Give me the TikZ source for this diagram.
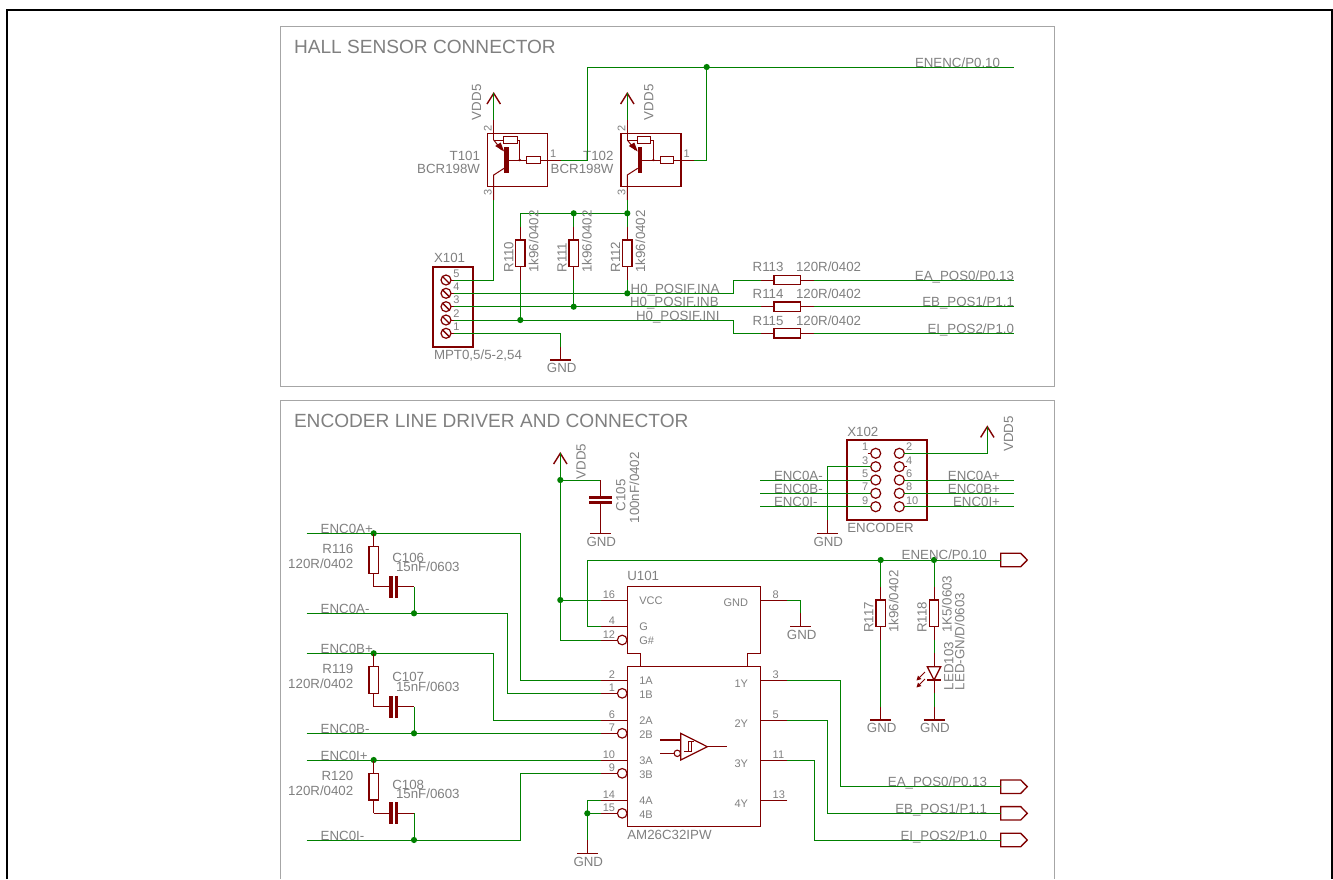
\documentclass[tikz,border=0pt]{standalone}
\usepackage{fontspec}
\setmainfont{Liberation Sans}
\definecolor{wirecol}{HTML}{008000}
\definecolor{symcol}{HTML}{800000}
\definecolor{labcol}{HTML}{808080}
\definecolor{panelcol}{HTML}{A6A6A6}
\tikzset{
  wire/.style={draw=wirecol,line width=1pt,line join=miter},
  sym/.style={draw=symcol,line width=1pt,line join=miter},
  symb/.style={draw=symcol,line width=1.4pt,line join=miter},
  lab/.style={text=labcol,inner sep=0pt,outer sep=0pt,font=\fontsize{13.3}{13.3}\selectfont},
  labr/.style={lab,rotate=90},
  pinl/.style={text=labcol,inner sep=0pt,outer sep=0pt,font=\fontsize{11}{11}\selectfont},
  pinr/.style={pinl,rotate=90},
  ttl/.style={text=labcol,inner sep=0pt,outer sep=0pt,font=\fontsize{19.1}{19.1}\selectfont},
  dot/.style={circle,fill=wirecol,inner sep=0pt,outer sep=0pt,minimum size=6.2pt},
  resv/.style={rectangle,draw=symcol,line width=1.3pt,fill=white,inner sep=0pt,outer sep=0pt,minimum width=9.3pt,minimum height=26.7pt},
  resh/.style={rectangle,draw=symcol,line width=1.3pt,fill=white,inner sep=0pt,outer sep=0pt,minimum width=26.7pt,minimum height=9.3pt},
  resm/.style={rectangle,draw=symcol,line width=1.2pt,fill=white,inner sep=0pt,outer sep=0pt,minimum width=13.4pt,minimum height=6.6pt},
  hole/.style={circle,draw=symcol,line width=1.2pt,fill=white,inner sep=0pt,outer sep=0pt,minimum size=10pt},
  inv/.style={circle,draw=symcol,line width=1.15pt,fill=white,inner sep=0pt,outer sep=0pt,minimum size=9.6pt},
  bigbox/.style={rectangle,draw=symcol,line width=2.2pt,inner sep=0pt,outer sep=0pt},
  trbox/.style={rectangle,draw=symcol,line width=1.4pt,inner sep=0pt,outer sep=0pt,minimum width=60pt,minimum height=53.4pt},
  flagshape/.style={draw=symcol,line width=1.3pt,fill=white}
}
\newcounter{lb}
\newcommand{\TX}[4][lab]{\stepcounter{lb}\edef\lbn{t\arabic{lb}}\node[#1,anchor=#2] (\lbn) at (#3) {#4};}
\newcommand{\RV}[3]{% name x yc
  \node[resv] (#1) at (#2,#3) {};
  \coordinate (#1T) at (#2,#3-26.7);
  \coordinate (#1B) at (#2,#3+26.7);
  \draw[sym] (#1T) -- (#1.north);
  \draw[sym] (#1B) -- (#1.south);}
\newcommand{\RH}[3]{% name xc y
  \node[resh] (#1) at (#2,#3) {};
  \coordinate (#1L) at (#2-26.7,#3);
  \coordinate (#1R) at (#2+26.7,#3);
  \draw[sym] (#1L) -- (#1.west);
  \draw[sym] (#1R) -- (#1.east);}
\newcommand{\GNDS}[3]{% name x y(bar)
  \coordinate (#1) at (#2,#3-13.3);
  \coordinate (#1b) at (#2,#3);
  \draw[sym] (#1) -- (#1b);
  \draw[symb] (#2-10.5,#3) -- (#2+10.5,#3);
  \TX{base}{#2+1,#3+12.7}{GND}}
\newcommand{\VDDS}[5]{% name x tipy labx laby
  \coordinate (#1) at (#2,#3);
  \draw[symb] (#2-6.7,#3+10.7) -- (#1) -- (#2+6.7,#3+10.7);
  \TX[labr]{base west}{#4,#5}{VDD5}}
\newcommand{\TRS}[5]{% name x0 label xtext p1text
  \node[trbox] (#1) at (#2+23.6,160) {};
  \coordinate (#1p2) at (#2,120);
  \coordinate (#1p1) at (#2+67,160);
  \coordinate (#1p3) at (#2,200);
  \draw[sym] (#1p2) -- (#2,140);
  \draw[sym] (#2,140) -- (#2+10,140);
  \draw[sym] (#2,140) -- (#2+8,150);
  \fill[symcol] (#2+1.5,146) -- (#2+10.4,151.5) -- (#2+7,142.5) -- cycle;
  \node[resm] (#1r1) at (#2+16.7,140) {};
  \draw[sym] (#1r1.east) -- (#2+26,140) -- (#2+26,160);
  \fill[symcol] (#2+26,160) circle (1.3pt);
  \fill[symcol] (#2+10.4,146.7) rectangle (#2+15,173.3);
  \draw[sym] (#2+15,160) -- (#2+32.7,160);
  \node[resm] (#1r2) at (#2+39.7,160) {};
  \draw[sym] (#1r2.east) -- (#1p1);
  \draw[sym] (#2+10.4,168.3) -- (#2,175) -- (#1p3);
  \TX[pinr]{base west}{#2-2,131.7}{2}
  \TX[pinr]{base west}{#2-2,195}{3}
  \TX[pinl]{base west}{#2+56.3,157.5}{1}
  \TX{base east}{#4,160}{#3}
  \TX{base east}{#4,173.3}{BCR198W}}
\newcommand{\PL}[3]{% name y num
  \coordinate (#1) at (600.7,#2);
  \draw[sym] (#1) -- (627.3,#2);
  \TX[pinl]{base east}{615,#2-2}{#3}}
\newcommand{\PLI}[3]{% name y num
  \coordinate (#1) at (600.7,#2);
  \draw[sym] (#1) -- (617.3,#2);
  \node[inv] (#1i) at (622.2,#2) {};
  \TX[pinl]{base east}{615,#2-2}{#3}}
\newcommand{\PRT}[3]{% name y num
  \coordinate (#1) at (787.3,#2);
  \draw[sym] (#1) -- (760.7,#2);
  \TX[pinl]{base west}{772.7,#2-2}{#3}}
\newcommand{\TERM}[6]{% Rname Cname ytop unused C-dy V-dy
  \RV{#1}{373.7}{#3+26.7}
  \coordinate (#1w) at (373.7,#3+53.4);
  \coordinate (#2w) at (414,#3+53.4);
  \coordinate (#2e) at (414,#3+80);
  \draw[sym] (#1B) -- (389.3,#3+53.4);
  \draw[sym] (398.3,#3+53.4) -- (#2w);
  \fill[symcol] (389.3,#3+42.4) rectangle (392.7,#3+64.4);
  \fill[symcol] (395,#3+42.4) rectangle (398.3,#3+64.4);
  \draw[wire] (#2w) -- (#2e);
  \TX{base east}{353.3,#3+20}{#1}
  \TX{base east}{353.3,#3+35}{120R/0402}
  \TX{base west}{392.3,#3+#5}{#2}
  \TX{base west}{396,#3+#6}{15nF/0603}}
\newcommand{\MPTP}[3]{% name y num
  \node[hole] (#1h) at (446,#2) {};
  \draw[symb] (442.3,#2-3.7) -- (449.7,#2+3.7);
  \coordinate (#1) at (454,#2);
  \draw[sym] (451,#2) -- (#1);
  \TX[pinl]{base west}{453.3,#2-3}{#3}}
\newcommand{\FLAG}[2]{% name y
  \coordinate (#1) at (1000.7,#2);
  \draw[flagshape] (#1) -- (1000.7,#2-6.7) -- (1020.7,#2-6.7) -- (1027.3,#2) -- (1020.7,#2+6.7) -- (1000.7,#2+6.7) -- cycle;}
\begin{document}
\begin{tikzpicture}[x=1pt,y=-1pt]
\useasboundingbox (0,0) rectangle (1333,879);
\fill[white] (0,0) rectangle (1333,879);
% outer frame
\draw[black,line width=2.2pt] (7,879) -- (7,10) -- (1331.6,10) -- (1331.6,879);
% panels
\draw[panelcol,line width=1pt] (280,26.5) rectangle (1054.3,386.3);
\draw[panelcol,line width=1pt] (280,879) -- (280,400.5) -- (1054.3,400.5) -- (1054.3,879);
\TX[ttl]{base west}{294,53}{HALL SENSOR CONNECTOR}
\TX[ttl]{base west}{294,427}{ENCODER LINE DRIVER AND CONNECTOR}

%%%%%%%%%% HALL
\TRS{T101}{493.7}{T101}{480}{1}
\TRS{T102}{627.3}{T102}{613.5}{1}
\VDDS{vddA}{493.7}{93.3}{481}{120}
\VDDS{vddB}{627.3}{93.3}{653.3}{120}
\draw[wire] (vddA) -- (T101p2);
\draw[wire] (vddB) -- (T102p2);
\coordinate (enA) at (587.3,67);
\coordinate (enB) at (1014,67);
\coordinate (enC) at (706.7,67);
\draw[wire] (T101p1) -| (enA) -- (enB);
\draw[wire] (T102p1) -| (enC);
\node[dot] (jEn) at (enC) {};
\TX{base east}{1000,67}{ENENC/P0.10}

% X101
\node[bigbox,minimum width=40pt,minimum height=80pt] (X101) at (453.3,306.7) {};
\MPTP{xa}{280}{5}
\MPTP{xb}{293.3}{4}
\MPTP{xc}{306.7}{3}
\MPTP{xd}{320}{2}
\MPTP{xe}{333.3}{1}
\TX{base west}{434,262.7}{X101}
\TX{base west}{434,359.3}{MPT0,5/5-2,54}
\draw[wire] (T101p3) |- (xa);
\GNDS{gndA}{560.7}{360}
\draw[wire] (xe) -| (gndA);

% R110-112
\RV{R110}{520.3}{253.3}
\RV{R111}{573.7}{253.3}
\RV{R112}{627.3}{253.3}
\coordinate (busL) at (520.3,213.3);
\node[dot] (jBusM) at (573.7,213.3) {};
\node[dot] (jBusR) at (627.3,213.3) {};
\draw[wire] (busL) -- (jBusR.center);
\draw[wire] (T102p3) -- (jBusR.center);
\draw[wire] (busL) -- (R110T);
\draw[wire] (jBusM.center) -- (R111T);
\draw[wire] (jBusR.center) -- (R112T);
\node[dot] (jB) at (627.3,293.3) {};
\node[dot] (jC) at (573.7,306.7) {};
\node[dot] (jD) at (520.3,320) {};
\draw[wire] (R110B) -- (jD.center);
\draw[wire] (R111B) -- (jC.center);
\draw[wire] (R112B) -- (jB.center);
\foreach \nm/\xx in {R110/513.3,R111/566.7,R112/620}{\TX[labr]{base west}{\xx,272.5}{\nm}}
\foreach \xx in {538.3,591.7,645}{\TX[labr]{base west}{\xx,272.5}{1k96/0402}}
% R113-115
\RH{R113}{787.3}{280}
\RH{R114}{787.3}{306.7}
\RH{R115}{787.3}{333.3}
\coordinate (tA) at (733.3,293.3);
\coordinate (tC) at (733.3,320);
\coordinate (eA) at (1014,280);
\coordinate (eB) at (1014,306.7);
\coordinate (eC) at (1014,333.3);
\draw[wire] (xb) -- (tA) |- (R113L);
\draw[wire] (xc) -- (R114L);
\draw[wire] (xd) -- (tC) |- (R115L);
\draw[wire] (R113R) -- (eA);
\draw[wire] (R114R) -- (eB);
\draw[wire] (R115R) -- (eC);
\TX{base west}{630.7,293.3}{H0\_POSIF.INA}
\TX{base west}{630,306.7}{H0\_POSIF.INB}
\TX{base west}{636,320}{H0\_POSIF.INI}
\TX{base west}{752.7,271.7}{R113}
\TX{base west}{796,271.7}{120R/0402}
\TX{base west}{752.7,298.7}{R114}
\TX{base west}{796,298.7}{120R/0402}
\TX{base west}{752.7,325.4}{R115}
\TX{base west}{796,325.4}{120R/0402}
\TX{base east}{1014,280}{EA\_POS0/P0.13}
\TX{base east}{1014,306.7}{EB\_POS1/P1.1}
\TX{base east}{1014,333.3}{EI\_POS2/P1.0}

%%%%%%%%%% ENCODER
% X102
\node[bigbox,minimum width=80pt,minimum height=80pt] (X102) at (887.3,480) {};
\TX{base west}{847.3,436.5}{X102}
\TX{base west}{847.3,532.5}{ENCODER}
\foreach \nm/\yy in {a/453.3,b/466.7,c/480,d/493.3,e/506.7}{
  \node[hole] (hl\nm) at (875.7,\yy) {};
  \node[hole] (hr\nm) at (899.3,\yy) {};
}
\foreach \nn/\yy in {1/453.3,3/466.7,5/480,7/493.3,9/506.7}{\TX[pinl]{base east}{868.3,\yy-2.5}{\nn}}
\foreach \nn/\yy in {2/453.3,4/466.7,6/480,8/493.3,10/506.7}{\TX[pinl]{base west}{906,\yy-2.5}{\nn}}
\draw[sym] (867.5,453.3) -- (hla.west);
\draw[sym] (906.5,466.7) -- (hrb.east);
\coordinate (xL1) at (760,480);
\coordinate (xL2) at (760,493.3);
\coordinate (xL3) at (760,506.7);
\coordinate (xR1) at (1014,480);
\coordinate (xR2) at (1014,493.3);
\coordinate (xR3) at (1014,506.7);
\draw[wire] (xL1) -- (hlc.west);
\draw[wire] (xL2) -- (hld.west);
\draw[wire] (xL3) -- (hle.west);
\draw[wire] (xR1) -- (hrc.east);
\draw[wire] (xR2) -- (hrd.east);
\draw[wire] (xR3) -- (hre.east);
\TX{base west}{774,480}{ENC0A-}
\TX{base west}{774,493.3}{ENC0B-}
\TX{base west}{774,506.7}{ENC0I-}
\TX{base east}{1000,480}{ENC0A+}
\TX{base east}{1000,493.3}{ENC0B+}
\TX{base east}{1000,506.7}{ENC0I+}
\VDDS{vddX}{987.3}{426.7}{1013}{451.7}
\draw[wire] (hra.east) -| (vddX);
\GNDS{gndX}{827.3}{533.3}
\draw[wire] (hlb.west) -| (gndX);

% VDD and C105
\VDDS{vddC}{560.3}{453.3}{585.7}{479.3}
\node[dot] (jC105) at (560.3,480) {};
\coordinate (c105t) at (600.3,480);
\draw[wire] (jC105.center) -- (c105t);
\draw[sym] (c105t) -- (600.3,495.7);
\fill[symcol] (589.3,495.7) rectangle (611.7,499);
\fill[symcol] (589.3,501) rectangle (611.7,504.3);
\GNDS{gndC}{600.3}{533.3}
\draw[sym] (600.3,504.3) -- (gndC);
\TX[labr]{base west}{625.3,511}{C105}
\TX[labr]{base west}{639,523.3}{100nF/0402}

% U101
\draw[symb] (640.7,666.7) -- (640.7,653.3) -- (627.3,653.3) -- (627.3,586.7) -- (760.7,586.7) -- (760.7,653.3) -- (747.3,653.3) -- (747.3,666.7);
\node[rectangle,draw=symcol,line width=1.4pt,inner sep=0pt,outer sep=0pt,minimum width=133.4pt,minimum height=160pt] (U101) at (694,746.7) {};
\TX{base west}{627.3,580}{U101}
\TX{base west}{627.3,839.3}{AM26C32IPW}
\PL{p16}{600}{16}
\PL{p4}{626.7}{4}
\PLI{p12}{640}{12}
\PL{p2}{680}{2}
\PLI{p1}{693.3}{1}
\PL{p6}{720}{6}
\PLI{p7}{733.3}{7}
\PL{p10}{760}{10}
\PLI{p9}{773.3}{9}
\PL{p14}{800}{14}
\PLI{p15}{813.3}{15}
\PRT{p8}{600}{8}
\PRT{p3}{680}{3}
\PRT{p5}{720}{5}
\PRT{p11}{760}{11}
\PRT{p13}{800}{13}
\foreach \nm/\yy in {VCC/604,G/630.7,G\#/644,1A/684,1B/698,2A/724,2B/738,3A/764,3B/778,4A/804,4B/818}{\TX[pinl]{base west}{639.3,\yy}{\nm}}
\foreach \nm/\yy in {GND/606.7,1Y/687,2Y/727,3Y/767,4Y/807}{\TX[pinl]{base east}{748,\yy}{\nm}}
% gate symbol
\draw[sym,line width=1.2pt] (680.7,733.3) -- (707.3,746.7) -- (680.7,760) -- cycle;
\draw[sym] (707.3,746.7) -- (727.3,746.7);
\draw[sym,line width=1.3pt] (660,740) -- (680.7,740);
\draw[sym,line width=1.3pt] (660,753.3) -- (674,753.3);
\node[circle,draw=symcol,line width=1.1pt,fill=white,inner sep=0pt,outer sep=0pt,minimum size=6.4pt] (gInv) at (677.3,753.3) {};
\draw[sym] (684,751.5) -- (691,751.5) -- (691,741.5);
\draw[sym] (688,751.5) -- (688,741.5) -- (693.5,741.5);

% Terminations
\node[dot] (jA1) at (373.7,533.3) {};
\node[dot] (jB1) at (373.7,653.3) {};
\node[dot] (jC1) at (373.7,760) {};
\TERM{R116}{C106}{533.3}{}{29.4}{37.7}
\TERM{R119}{C107}{653.3}{}{28.4}{38.4}
\TERM{R120}{C108}{760}{}{29}{38}
\coordinate (lA1) at (306.7,533.3);
\coordinate (lA2) at (306.7,613.3);
\coordinate (lB1) at (306.7,653.3);
\coordinate (lB2) at (306.7,733.3);
\coordinate (lC1) at (306.7,760);
\coordinate (lC2) at (306.7,840);
\coordinate (tA1) at (520.3,533.3);
\coordinate (tA2) at (507.3,613.3);
\coordinate (tB1) at (493.7,653.3);
\coordinate (tC2) at (520.3,840);
\draw[wire] (lA1) -- (tA1) |- (p2);
\draw[wire] (lA2) -- (tA2) |- (p1);
\draw[wire] (lB1) -- (tB1) |- (p6);
\draw[wire] (lB2) -- (p7);
\draw[wire] (lC1) -- (p10);
\draw[wire] (lC2) -- (tC2) |- (p9);
\node[dot] (jA3) at (C106e) {};
\node[dot] (jB3) at (C107e) {};
\node[dot] (jC3) at (C108e) {};
\TX{base west}{320.7,533.3}{ENC0A+}
\TX{base west}{320.7,613.3}{ENC0A-}
\TX{base west}{320.7,653.3}{ENC0B+}
\TX{base west}{320.7,733.3}{ENC0B-}
\TX{base west}{320.7,760}{ENC0I+}
\TX{base west}{320.7,840}{ENC0I-}

% U101 power wiring
\node[dot] (jV) at (560.3,600) {};
\coordinate (vCor) at (560.3,640);
\draw[wire] (vddC) -- (vCor) -- (p12);
\draw[wire] (jV.center) -- (p16);
\coordinate (enTL) at (587.3,560);
\FLAG{fEn}{560}
\draw[wire] (p4) -| (enTL) -- (fEn);
\node[dot] (jR117) at (880.7,560) {};
\node[dot] (jR118) at (934,560) {};
\TX{base east}{986.7,559}{ENENC/P0.10}
\GNDS{gnd8}{800.7}{626.7}
\draw[wire] (p8) -| (gnd8);
\node[dot] (j14) at (587.3,813.3) {};
\GNDS{gnd14}{587.3}{853.3}
\draw[wire] (p14) -| (gnd14);
\draw[wire] (j14.center) -- (p15);
% outputs
\FLAG{fA}{786.7}
\FLAG{fB}{813.3}
\FLAG{fC}{840}
\coordinate (oA) at (840.7,680);
\coordinate (oB) at (827.3,720);
\coordinate (oC) at (814,760);
\draw[wire] (p3) -- (oA) |- (fA);
\draw[wire] (p5) -- (oB) |- (fB);
\draw[wire] (p11) -- (oC) |- (fC);
\TX{base east}{987,786.7}{EA\_POS0/P0.13}
\TX{base east}{987,813.3}{EB\_POS1/P1.1}
\TX{base east}{987,840}{EI\_POS2/P1.0}
% R117 / R118 / LED
\RV{R117}{880.7}{613.3}
\RV{R118}{934}{613.3}
\GNDS{gnd117}{880.7}{720}
\GNDS{gnd118}{934}{720}
\draw[wire] (jR117.center) -- (R117T);
\draw[wire] (R117B) -- (gnd117);
\draw[wire] (jR118.center) -- (R118T);
\coordinate (ledT) at (934,653.3);
\coordinate (ledB) at (934,693.3);
\draw[wire] (R118B) -- (ledT);
\draw[wire] (ledB) -- (gnd118);
\draw[sym] (ledT) -- (934,666.7);
\draw[sym] (934,680) -- (ledB);
\draw[sym,line width=1.3pt] (927.3,666.7) -- (940.7,666.7) -- (934,680) -- cycle;
\draw[sym,line width=1.3pt] (927.3,680) -- (940.7,680);
\draw[sym,line width=0.9pt] (925,672) -- (919,678);
\fill[symcol] (916.5,680.5) -- (918,675.5) -- (921.5,679) -- cycle;
\draw[sym,line width=0.9pt] (925,679) -- (919,685);
\fill[symcol] (916.5,687.5) -- (918,682.5) -- (921.5,686) -- cycle;
\TX[labr]{base west}{873.3,632.7}{R117}
\TX[labr]{base west}{898.3,632.7}{1k96/0402}
\TX[labr]{base west}{926.7,632.7}{R118}
\TX[labr]{base west}{951.7,632.7}{1K5/0603}
\TX[labr]{base west}{953.3,690}{LED103}
\TX[labr]{base west}{964.3,690}{LED-GN/D/0603}
\end{tikzpicture}
\end{document}
